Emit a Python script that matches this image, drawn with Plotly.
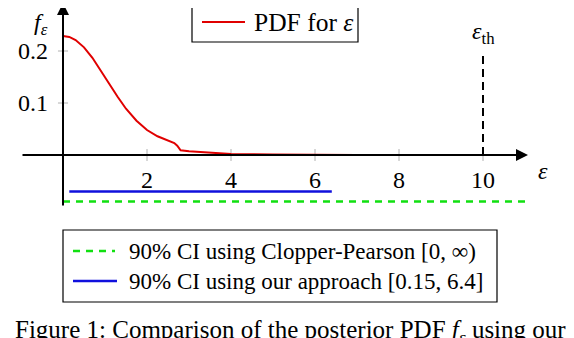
import plotly.graph_objects as go

# posterior PDF of epsilon
eps = [0, 0.15, 0.3, 0.5, 0.7, 0.9, 1.1, 1.3, 1.5, 1.75, 2.0, 2.25, 2.5, 2.65, 2.72, 2.8, 3.0, 3.5, 4.0, 5.0, 6.0, 7.0]
pdf = [0.229, 0.227, 0.221, 0.207, 0.187, 0.163, 0.137, 0.112, 0.089, 0.066, 0.048, 0.036, 0.027, 0.023, 0.018, 0.009, 0.007, 0.004, 0.002, 0.001, 0.0005, 0.0]

ci_cp = [0, 11.0]      # Clopper-Pearson [0, inf), drawn to the end of the axis
ci_ours = [0.15, 6.4]  # our approach
eps_th = 10
xticks = [2, 4, 6, 8, 10]
yticks = [0.1, 0.2]

FONT = "Liberation Serif"
RED, GREEN, BLUE = "#e00000", "#11e011", "#1010dd"

# the page body has an 8px margin, so the figure is 8px smaller than the window
W, H = 566, 330


def px2x(p):  # window pixel -> data x
    return (p - 63) / 42


def px2y(p):  # window pixel -> data y
    return (155 - p) / 520


def fx(p):  # window pixel -> paper x
    return (p - 8) / W


def fy(p):  # window pixel -> paper y
    return 1 - (p - 8) / H


fig = go.Figure()

fig.add_trace(go.Scatter(x=eps, y=pdf, mode="lines", line=dict(color=RED, width=2), name="PDF"))
fig.add_trace(go.Scatter(x=ci_cp, y=[px2y(201.5)] * 2, mode="lines",
                         line=dict(color=GREEN, width=2.5, dash="7px,6px"), name="CP"))
fig.add_trace(go.Scatter(x=ci_ours, y=[px2y(191.5)] * 2, mode="lines",
                         line=dict(color=BLUE, width=2.5), name="ours"))

# threshold line
fig.add_shape(type="line", x0=eps_th, x1=eps_th, y0=0, y1=0.196,
              line=dict(color="black", width=2, dash="8px,5px"))

# tick marks
for t in xticks:
    fig.add_shape(type="line", x0=t, x1=t, y0=-0.0115, y1=0.0115, line=dict(color="#b0b0b0", width=1), layer="below")
for t in yticks:
    fig.add_shape(type="line", x0=-0.12, x1=0.12, y0=t, y1=t, line=dict(color="#b0b0b0", width=1), layer="below")

# axes with arrows
fig.add_annotation(x=px2x(528), y=0, ax=px2x(21), ay=0, xref="x", yref="y", axref="x", ayref="y",
                   text="", showarrow=True, arrowhead=2, arrowsize=1.2, arrowwidth=2, arrowcolor="black")
fig.add_annotation(x=0, y=px2y(3), ax=0, ay=px2y(207), xref="x", yref="y", axref="x", ayref="y",
                   text="", showarrow=True, arrowhead=2, arrowsize=1.2, arrowwidth=2, arrowcolor="black")

tick_font = dict(family=FONT, size=24, color="black")
for t in xticks:
    fig.add_annotation(x=t, y=px2y(180), text=str(t), showarrow=False, yanchor="middle", font=tick_font)
for t in yticks:
    fig.add_annotation(x=px2x(50), y=t, text=str(t), showarrow=False, xanchor="right", font=tick_font)

fig.add_annotation(x=px2x(41), y=px2y(24), text="<i>f</i><sub><i>ε</i></sub>", showarrow=False, font=tick_font)
fig.add_annotation(x=px2x(543), y=px2y(171), text="<i>ε</i>", showarrow=False, font=tick_font)
fig.add_annotation(x=px2x(483), y=px2y(33), text="<i>ε</i><sub>th</sub>", showarrow=False, font=tick_font)

# legend boxes, drawn by hand to match the LaTeX layout
fig.add_shape(type="rect", xref="paper", yref="paper", x0=fx(192), x1=fx(358), y0=fy(42), y1=fy(2),
              line=dict(color="black", width=1.2), fillcolor="white")
fig.add_shape(type="line", xref="paper", yref="paper", x0=fx(202), x1=fx(245), y0=fy(22), y1=fy(22),
              line=dict(color=RED, width=2))
fig.add_annotation(x=fx(252), y=fy(22), xref="paper", yref="paper", xanchor="left", yanchor="middle",
                   text="PDF for <i>ε</i>", showarrow=False, font=dict(family=FONT, size=25.5, color="black"))

leg_font = dict(family=FONT, size=23, color="black")
fig.add_shape(type="rect", xref="paper", yref="paper", x0=fx(63), x1=fx(497), y0=fy(302), y1=fy(230),
              line=dict(color="black", width=1.2), fillcolor="white")
fig.add_shape(type="line", xref="paper", yref="paper", x0=fx(73), x1=fx(115), y0=fy(251), y1=fy(251),
              line=dict(color=GREEN, width=2.5, dash="7px,6px"))
fig.add_shape(type="line", xref="paper", yref="paper", x0=fx(73), x1=fx(117), y0=fy(281), y1=fy(281),
              line=dict(color=BLUE, width=2.5))
fig.add_annotation(x=fx(127), y=fy(251), xref="paper", yref="paper", xanchor="left", yanchor="middle",
                   text="90% CI using Clopper-Pearson [0, ∞)", showarrow=False, font=leg_font)
fig.add_annotation(x=fx(127), y=fy(281), xref="paper", yref="paper", xanchor="left", yanchor="middle",
                   text="90% CI using our approach [0.15, 6.4]", showarrow=False, font=leg_font)

# caption (cut off at the bottom of the frame)
fig.add_annotation(x=fx(290), y=fy(331), xref="paper", yref="paper", yanchor="middle",
                   text="Figure 1: Comparison of the posterior PDF <i>f</i><sub><i>ε</i></sub> using our",
                   showarrow=False, font=dict(family=FONT, size=25, color="black"))

fig.update_layout(
    width=W, height=H,
    margin=dict(l=0, r=0, t=0, b=0),
    paper_bgcolor="white", plot_bgcolor="white",
    xaxis=dict(visible=False, range=[px2x(8), px2x(8 + W)]),
    yaxis=dict(visible=False, range=[px2y(8 + H), px2y(8)]),
    showlegend=False,
)

fig.write_html("out.html")
